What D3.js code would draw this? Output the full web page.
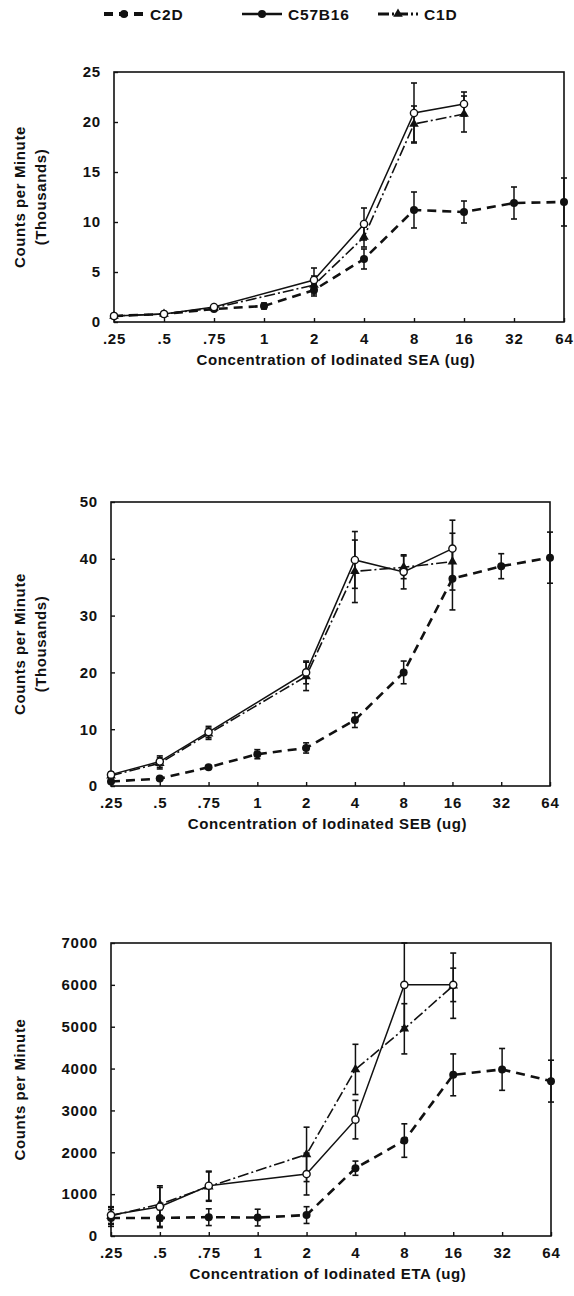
<!DOCTYPE html>
<html>
<head>
<meta charset="utf-8">
<script src="https://cdn.jsdelivr.net/npm/d3@7"></script>
<style>
  body { margin: 0; background: #fff; }
  svg text { font-family: "Liberation Sans", Arial, sans-serif; font-weight: bold; fill: #111; }
</style>
</head>
<body>
<div id="chart"></div>
<script>
// doses on the x axis (equal spacing)
const doses = [".25", ".5", ".75", "1", "2", "4", "8", "16", "32", "64"];

// SEA panel (thousands of cpm), null = not measured
const seaC2D = [0.6, 0.8, 1.3, 1.6, 3.2, 6.3, 11.2, 11.0, 11.9, 12.0];
const seaC2DErr = [0.2, 0.2, 0.2, 0.3, 0.6, 1.0, 1.8, 1.1, 1.6, 2.4];
const seaC57 = [0.6, 0.8, 1.5, null, 4.2, 9.8, 20.9, 21.8, null, null];
const seaC57Err = [0.2, 0.2, 0.2, null, 1.2, 1.6, 3.0, 1.2, null, null];
const seaC1D = [0.6, 0.8, 1.4, null, 3.7, 8.5, 19.8, 20.8, null, null];
const seaC1DErr = [0.2, 0.2, 0.2, null, 0.9, 1.0, 1.8, 1.8, null, null];

// SEB panel (thousands of cpm)
const sebC2D = [0.8, 1.3, 3.3, 5.6, 6.7, 11.6, 20.0, 36.5, 38.7, 40.2];
const sebC2DErr = [0.3, 0.3, 0.3, 0.8, 0.9, 1.3, 2.0, 5.5, 2.2, 4.5];
const sebC57 = [2.0, 4.3, 9.5, null, 20.0, 39.8, 37.7, 41.8, null, null];
const sebC57Err = [0.5, 1.0, 1.0, null, 2.0, 5.0, 3.0, 5.0, null, null];
const sebC1D = [1.8, 4.0, 9.2, null, 19.3, 37.8, 38.5, 39.5, null, null];
const sebC1DErr = [0.5, 1.0, 1.0, null, 2.5, 5.5, 2.0, 5.0, null, null];

// ETA panel (cpm)
const etaC2D = [430, 430, 450, 440, 500, 1620, 2280, 3850, 3980, 3700];
const etaC2DErr = [200, 200, 200, 200, 200, 170, 400, 500, 500, 500];
const etaC57 = [500, 700, 1200, null, 1480, 2780, 6000, 6000, null, null];
const etaC57Err = [200, 500, 350, null, 500, 460, 1000, 400, null, null];
const etaC1D = [480, 760, 1180, null, 1950, 3980, 4950, 5980, null, null];
const etaC1DErr = [200, 400, 350, null, 650, 600, 600, 780, null, null];

const seaTicks = [0, 5, 10, 15, 20, 25];
const sebTicks = [0, 10, 20, 30, 40, 50];
const etaTicks = [0, 1000, 2000, 3000, 4000, 5000, 6000, 7000];

const width = 574;
const height = 1296;

const strains = {
  C2D:    { dash: "9,6", width: 2.6, marker: "dot" },
  C57B16: { dash: null, width: 1.5, marker: "open" },
  C1D:    { dash: "11,3,2,3", width: 1.6, marker: "tri" }
};

const svg = d3.select('#chart')
  .append('svg')
  .attr('width', width)
  .attr('height', height);

function drawMarker(g, kind, x, y) {
  if (kind === "dot") {
    g.append('circle').attr('cx', x).attr('cy', y).attr('r', 4).attr('fill', '#111');
  } else if (kind === "open") {
    g.append('circle').attr('cx', x).attr('cy', y).attr('r', 3.6)
      .attr('fill', '#fff').attr('stroke', '#111').attr('stroke-width', 1.4);
  } else {
    g.append('path')
      .attr('d', d3.symbol(d3.symbolTriangle, 40)())
      .attr('transform', `translate(${x},${y})`)
      .attr('fill', '#111');
  }
}

function renderPanel(p) {
  const x = d3.scalePoint().domain(doses).range([p.left, p.right]);
  const y = d3.scaleLinear().domain([0, p.ticks[p.ticks.length - 1]]).range([p.bottom, p.top]);

  const g = svg.append('g');

  // frame
  g.append('rect')
    .attr('x', p.left).attr('y', p.top)
    .attr('width', p.right - p.left).attr('height', p.bottom - p.top)
    .attr('fill', 'none').attr('stroke', '#111').attr('stroke-width', 1.6);

  // axes (ticks inward)
  g.append('g')
    .attr('transform', `translate(0, ${p.bottom})`)
    .call(d3.axisBottom(x).tickSizeInner(-4).tickSizeOuter(0).tickPadding(11))
    .call(a => a.select('.domain').remove())
    .call(a => a.selectAll('text').attr('font-size', '15px').attr('letter-spacing', '0.8px'));

  g.append('g')
    .attr('transform', `translate(${p.left}, 0)`)
    .call(d3.axisLeft(y).tickValues(p.ticks).tickFormat(d3.format("d"))
      .tickSizeInner(-4).tickSizeOuter(0).tickPadding(13))
    .call(a => a.select('.domain').remove())
    .call(a => a.selectAll('text').attr('font-size', '15px').attr('letter-spacing', '0.8px'));

  g.selectAll('.tick line').attr('stroke', '#111').attr('stroke-width', 1.4);

  // series
  p.series.forEach(s => {
    const st = strains[s.name];
    const pts = doses.map((d, i) => ({ d, v: s.values[i], e: s.err[i] }));

    const line = d3.line()
      .defined(q => q.v != null)
      .x(q => x(q.d))
      .y(q => y(q.v));

    g.append('path')
      .datum(pts.filter(q => q.v != null))
      .attr('d', line)
      .attr('fill', 'none')
      .attr('stroke', '#111')
      .attr('stroke-width', st.width)
      .attr('stroke-dasharray', st.dash);

    pts.filter(q => q.v != null).forEach(q => {
      const cx = x(q.d);
      const y1 = y(q.v + q.e), y2 = y(Math.max(0, q.v - q.e));
      g.append('line').attr('x1', cx).attr('x2', cx).attr('y1', y1).attr('y2', y2)
        .attr('stroke', '#111').attr('stroke-width', 1.5);
      [y1, y2].forEach(yy => {
        g.append('line').attr('x1', cx - 3).attr('x2', cx + 3).attr('y1', yy).attr('y2', yy)
          .attr('stroke', '#111').attr('stroke-width', 1.6);
      });
    });

    pts.filter(q => q.v != null).forEach(q => drawMarker(g, st.marker, x(q.d), y(q.v)));
  });

  // axis titles
  g.append('text')
    .attr('x', (p.left + p.right) / 2 - 3)
    .attr('y', p.bottom + 43)
    .attr('text-anchor', 'middle')
    .attr('font-size', '15px')
    .attr('letter-spacing', '0.6px')
    .text(p.xTitle);

  const cy = (p.top + p.bottom) / 2;
  p.yTitle.forEach((t, i) => {
    g.append('text')
      .attr('transform', `translate(${25 + i * 21}, ${cy}) rotate(-90)`)
      .attr('text-anchor', 'middle')
      .attr('font-size', '15px')
      .attr('letter-spacing', '0.6px')
      .text(t);
  });
}

renderPanel({
  left: 114, right: 564, top: 72, bottom: 322, ticks: seaTicks,
  xTitle: "Concentration of Iodinated SEA (ug)",
  yTitle: ["Counts per Minute", "(Thousands)"],
  series: [
    { name: "C2D", values: seaC2D, err: seaC2DErr },
    { name: "C1D", values: seaC1D, err: seaC1DErr },
    { name: "C57B16", values: seaC57, err: seaC57Err }
  ]
});

renderPanel({
  left: 111, right: 550, top: 502, bottom: 786, ticks: sebTicks,
  xTitle: "Concentration of Iodinated SEB (ug)",
  yTitle: ["Counts per Minute", "(Thousands)"],
  series: [
    { name: "C2D", values: sebC2D, err: sebC2DErr },
    { name: "C1D", values: sebC1D, err: sebC1DErr },
    { name: "C57B16", values: sebC57, err: sebC57Err }
  ]
});

renderPanel({
  left: 111, right: 551, top: 943, bottom: 1236, ticks: etaTicks,
  xTitle: "Concentration of Iodinated ETA (ug)",
  yTitle: ["Counts per Minute"],
  series: [
    { name: "C2D", values: etaC2D, err: etaC2DErr },
    { name: "C1D", values: etaC1D, err: etaC1DErr },
    { name: "C57B16", values: etaC57, err: etaC57Err }
  ]
});

// legend
const legendItems = [
  { name: "C2D", x: 104 },
  { name: "C57B16", x: 242 },
  { name: "C1D", x: 378 }
];
const legend = svg.append('g');
legendItems.forEach(it => {
  const st = strains[it.name];
  legend.append('line')
    .attr('x1', it.x).attr('x2', it.x + 40).attr('y1', 14).attr('y2', 14)
    .attr('stroke', '#111').attr('stroke-width', st.width + 1.2)
    .attr('stroke-dasharray', st.dash);
  drawMarker(legend, st.marker === "open" ? "dot" : st.marker, it.x + 20, 14);
  legend.append('text')
    .attr('x', it.x + 46).attr('y', 19.5)
    .attr('font-size', '15.5px')
    .attr('letter-spacing', '0.8px')
    .text(it.name);
});
</script>
</body>
</html>
